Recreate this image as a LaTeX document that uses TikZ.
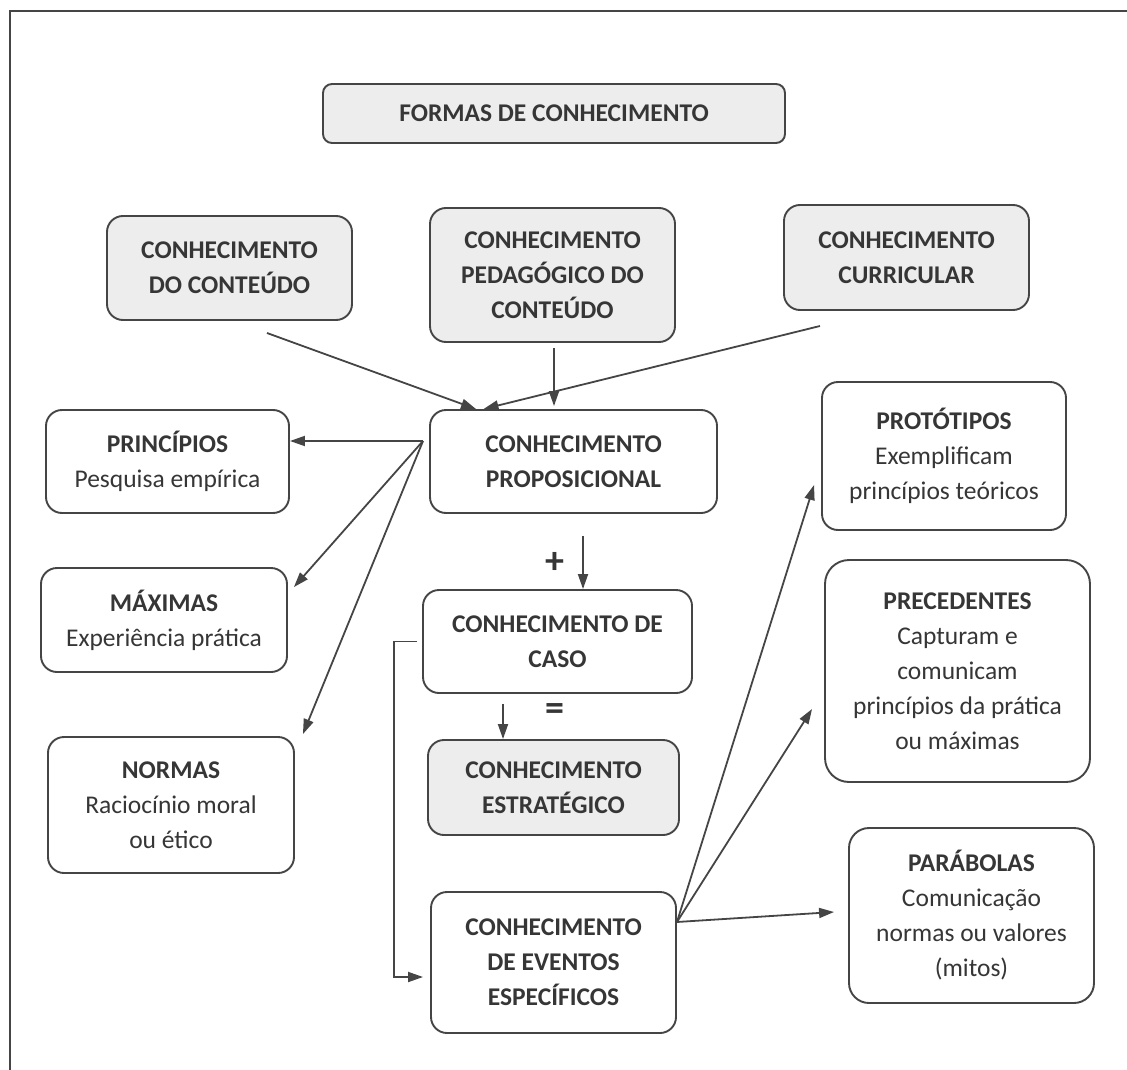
\documentclass[tikz,border=0pt]{standalone}
\usepackage{fontspec}
\setmainfont{Carlito}
\usetikzlibrary{arrows.meta,calc}
\definecolor{ink}{HTML}{363636}
\definecolor{edge}{HTML}{454545}
\definecolor{boxgray}{HTML}{EDEDED}
\tikzset{
  box/.style={draw=edge, line width=1.9pt, rounded corners=16pt, fill=white, text=ink,
    font=\fontsize{25.5}{35}\selectfont, align=center, inner sep=0pt},
  graybox/.style={box, fill=boxgray},
  arr/.style={draw=edge, line width=1.8pt, -{Triangle[length=15pt,width=10pt]}},
  sym/.style={text=ink, font=\fontsize{38}{38}\selectfont\bfseries, inner sep=0pt}
}
\begin{document}
\begin{tikzpicture}[x=1pt,y=-1pt]
\useasboundingbox (0,0) rectangle (1127,1070);
% frame
\draw[edge, line width=2.2pt] (10,1070) -- (10,11) -- (1127,11);

% boxes
\node[graybox, rounded corners=9pt, minimum width=462pt, minimum height=59pt] (formas) at (554,113.5) {\bfseries FORMAS DE CONHECIMENTO};
\node[graybox, minimum width=245pt, minimum height=104pt] (conteudo) at (229.5,268) {\bfseries CONHECIMENTO\\\bfseries DO CONTEÚDO};
\node[graybox, minimum width=245pt, minimum height=134pt] (pedag) at (552.5,275) {\bfseries CONHECIMENTO\\\bfseries PEDAGÓGICO DO\\\bfseries CONTEÚDO};
\node[graybox, minimum width=245pt, minimum height=105pt] (curric) at (906.5,257.5) {\bfseries CONHECIMENTO\\\bfseries CURRICULAR};
\node[box, minimum width=287pt, minimum height=103pt] (propos) at (573.5,461.5) {\bfseries CONHECIMENTO\\\bfseries PROPOSICIONAL};
\node[box, minimum width=244pt, minimum height=148pt] (proto) at (944,456) {\bfseries PROTÓTIPOS\\Exemplificam\\princípios teóricos};
\node[box, minimum width=243pt, minimum height=103pt] (princ) at (167.5,461.5) {\bfseries PRINCÍPIOS\\Pesquisa empírica};
\node[box, minimum width=246pt, minimum height=104pt] (maxim) at (164,620) {\bfseries MÁXIMAS\\Experiência prática};
\node[box, minimum width=246pt, minimum height=136pt] (normas) at (171,805) {\bfseries NORMAS\\Raciocínio moral\\ou ético};
\node[box, minimum width=269pt, minimum height=103pt] (caso) at (557.5,641.5) {\bfseries CONHECIMENTO DE\\\bfseries CASO};
\node[graybox, minimum width=251pt, minimum height=95pt] (estrat) at (553.5,787.5) {\bfseries CONHECIMENTO\\\bfseries ESTRATÉGICO};
\node[box, minimum width=245pt, minimum height=141pt] (eventos) at (553.5,962.5) {\bfseries CONHECIMENTO\\\bfseries DE EVENTOS\\\bfseries ESPECÍFICOS};
\node[box, rounded corners=24pt, minimum width=265pt, minimum height=222pt] (preced) at (957.5,671) {\bfseries PRECEDENTES\\Capturam e\\comunicam\\princípios da prática\\ou máximas};
\node[box, rounded corners=20pt, minimum width=245pt, minimum height=175pt] (parab) at (971.5,915.5) {\bfseries PARÁBOLAS\\Comunicação\\normas ou valores\\(mitos)};

% symbols
\node[sym] (plus) at (555,563) {+};
\node[sym] (equal) at (555,712) {=};

% top arrows into propositional
\coordinate (s1) at (267,333);
\draw[arr] (s1) -- ([xshift=47pt]propos.north west);
\draw[arr] ([xshift=1.5pt,yshift=-5pt]pedag.south) -- ([xshift=1.5pt,yshift=3pt]pedag.south |- propos.north);
\coordinate (s3) at (820,326);
\draw[arr] (s3) -- ([xshift=-90pt]propos.north);

% fan to the left
\coordinate (f1) at (423,441);
\draw[arr] (f1) -- (princ.east |- f1);
\draw[arr] (f1) -- ([xshift=6pt,yshift=-20pt]maxim.north east);
\draw[arr] (f1) -- ([xshift=8pt,yshift=2pt]normas.north east);

% propositional + case = strategic
\coordinate (d1) at ([xshift=9.5pt,yshift=-22pt]propos.south);
\draw[arr] (d1) -- (d1 |- caso.north);
\coordinate (d2) at ([xshift=-54.5pt,yshift=-10pt]caso.south);
\draw[arr] (d2) -- (d2 |- estrat.north);

% bracket from case to specific events
\draw[arr] ([xshift=-5pt]caso.west) -- ++(-23pt,0pt) |- ([xshift=-7pt,yshift=-14.5pt]eventos.west);

% fan to the right
\coordinate (f2) at ([yshift=40.5pt]eventos.east);
\draw[arr] (f2) -- ([xshift=-7pt,yshift=-29pt]proto.west);
\draw[arr] (f2) -- ([xshift=-12pt,yshift=-38pt]preced.west);
\draw[arr] (f2) -- ([xshift=-14pt,yshift=3.5pt]parab.west);
\end{tikzpicture}
\end{document}
